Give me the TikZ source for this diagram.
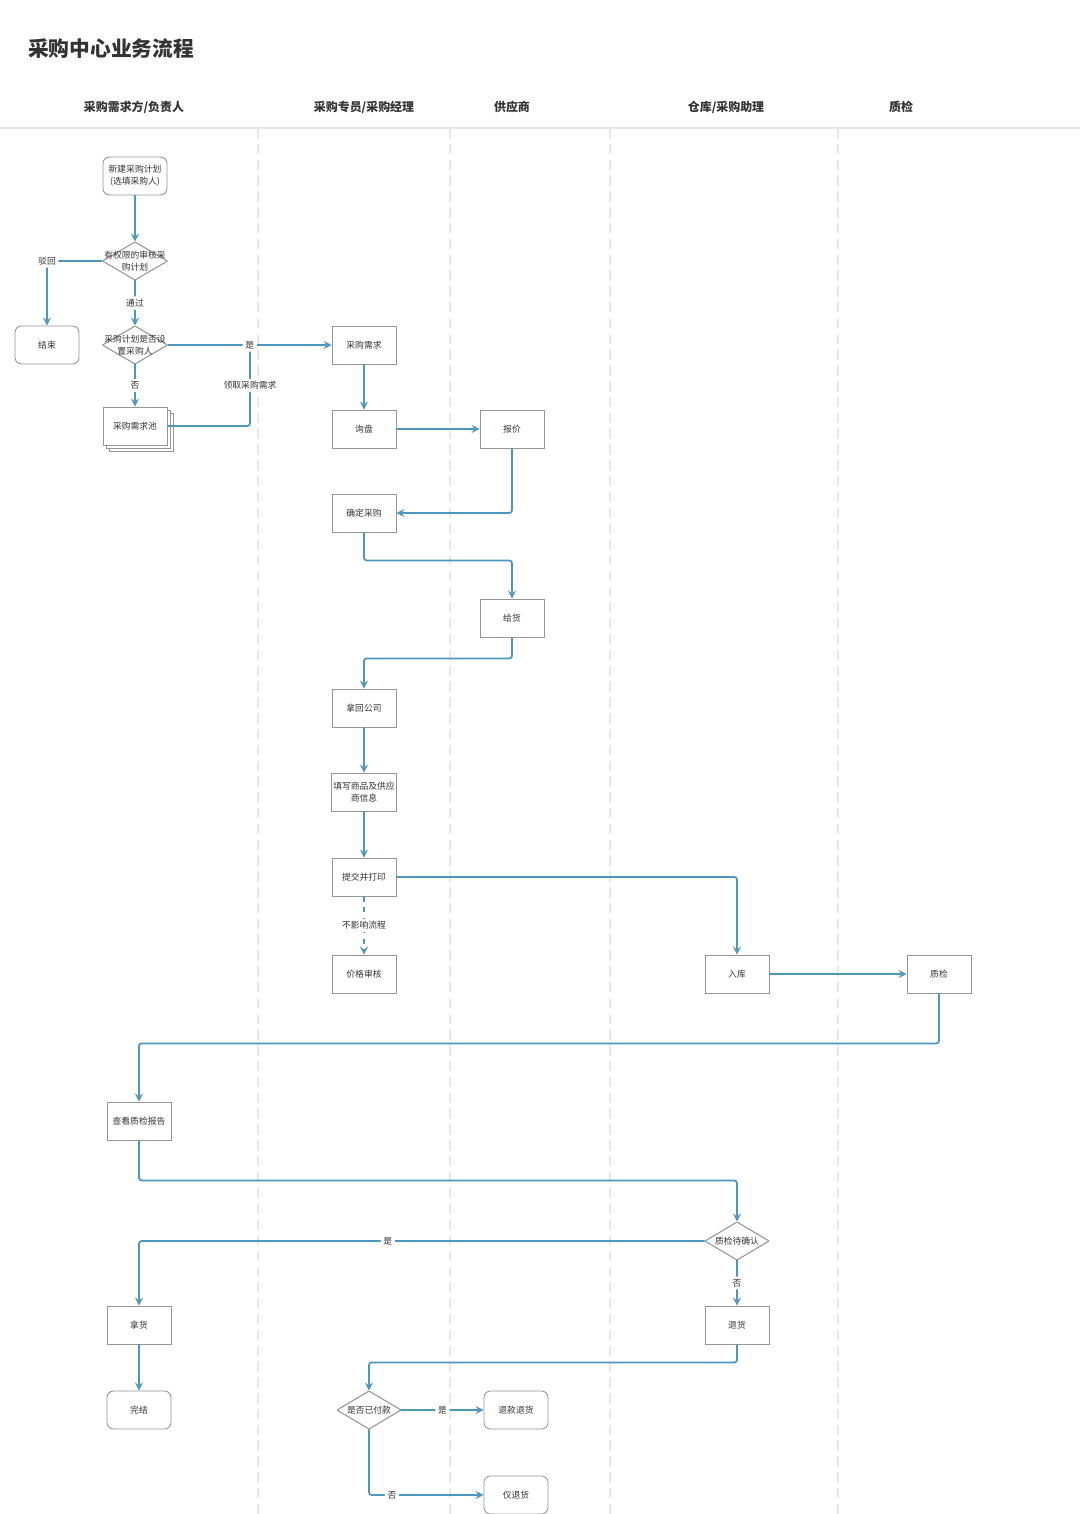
\documentclass[tikz,border=0pt]{standalone}
\usepackage{fontspec}
\setmainfont{Noto Sans CJK SC}
\usepackage{tikz}
\usetikzlibrary{arrows,shapes,shadows,calc,positioning}
\definecolor{flowblue}{RGB}{78,150,188}
\definecolor{boxgray}{RGB}{150,150,150}
\definecolor{txtgray}{RGB}{51,51,51}
\definecolor{lanegray}{RGB}{232,232,232}
\tikzset{%
box/.style={draw=boxgray, line width=0.5pt, fill=white, minimum width=1.28cm,
  minimum height=0.76cm, inner sep=1pt, align=center,
  font=\fontsize{5}{6.8}\selectfont, text=txtgray},
rbox/.style={box, rounded corners=0.13cm},
decision/.style={box, draw=none, path picture={
    \draw[boxgray, line width=0.6pt] (path picture bounding box.north)
      -- (path picture bounding box.east) -- (path picture bounding box.south)
      -- (path picture bounding box.west) -- cycle;}},
stackdoc/.style={box,
  general shadow={fill=white, draw=boxgray, shadow xshift=3.4pt, shadow yshift=-3.4pt},
  general shadow={fill=white, draw=boxgray, shadow xshift=1.7pt, shadow yshift=-1.7pt}},
lanehead/.style={font=\bfseries\fontsize{6.8}{8}\selectfont, text=txtgray},
laneline/.style={lanegray, line width=0.6pt, dash pattern=on 6pt off 3pt},
lbl/.style={fill=white, inner sep=1.5pt, font=\fontsize{5}{6}\selectfont, text=txtgray},
flow/.style={draw=flowblue, line width=1pt, rounded corners=1.5pt, -stealth}
}

\begin{document}
\begin{tikzpicture}[x=0.02cm, y=-0.02cm]
\useasboundingbox[fill=white] (0,0) rectangle (1080,1514);

% title and swim lanes
\node[anchor=west, font=\bfseries\fontsize{11.8}{14}\selectfont, text=txtgray] (title) at (22,49) {采购中心业务流程};
\node[lanehead] (hbuyer) at (134,107) {采购需求方/负责人};
\node[lanehead] (hpurchaser) at (364,107) {采购专员/采购经理};
\node[lanehead] (hsupplier) at (512,107) {供应商};
\node[lanehead] (hwarehouse) at (726,107) {仓库/采购助理};
\node[lanehead] (hqc) at (901,107) {质检};
\draw[lanegray, line width=0.6pt] (0,128) -- (1080,128);
\foreach \lx in {258,450,610,838}
  \draw[laneline] (\lx,128) -- (\lx,1514);

% buyer lane
\node[rbox] (newplan) at (135,176) {新建采购计划\\(选填采购人)};
\node[decision] (audit) at (135,261) {有权限的审核采\\购计划};
\node[rbox] (finish) at (47,345) {结束};
\node[decision] (setbuyer) at (135,345) {采购计划是否设\\置采购人};
\node[stackdoc] (pool) at (135,426) {采购需求池};
\node[box] (report) at (139,1121) {查看质检报告};
\node[box] (pickup) at (139,1325) {拿货};
\node[rbox] (done) at (139,1410) {完结};

% purchaser lane
\node[box] (demand) at (364,345) {采购需求};
\node[box] (inquiry) at (364,429) {询盘};
\node[box] (confirm) at (364,513) {确定采购};
\node[box] (fetch) at (364,708) {拿回公司};
\node[box] (fillin) at (364,792) {填写商品及供应\\商信息};
\node[box] (submit) at (364,877) {提交并打印};
\node[box] (pricecheck) at (364,974) {价格审核};
\node[decision] (paid) at (369,1410) {是否已付款};

% supplier lane
\node[box] (quote) at (512,429) {报价};
\node[box] (deliver) at (512,618) {给货};
\node[rbox] (refund) at (516,1410) {退款退货};
\node[rbox] (onlyreturn) at (516,1495) {仅退货};

% warehouse and qc lanes
\node[box] (stockin) at (737,974) {入库};
\node[box] (qc) at (939,974) {质检};
\node[decision] (qcconfirm) at (737,1241) {质检待确认};
\node[box] (return) at (737,1325) {退货};

\draw[flow] (newplan) -- (audit);
\draw[flow] (audit.west) -| node[lbl, pos=0.5]{驳回} (finish.north);
\draw[flow] (audit) -- node[lbl]{通过} (setbuyer);
\coordinate (join) at (250,345);
\draw[flow, -] (pool.east) -| node[lbl, pos=0.75]{领取采购需求} (join);
\draw[flow] (setbuyer) -- node[lbl]{是} (demand);
\draw[flow] (setbuyer) -- node[lbl]{否} (pool);

\draw[flow] (demand) -- (inquiry);
\draw[flow] (inquiry) -- (quote);
\draw[flow] (quote.south) |- (confirm.east);
\draw[flow] (confirm.south) -- ++(0,28) -| (deliver.north);
\draw[flow] (deliver.south) -- ++(0,21) -| (fetch.north);
\draw[flow] (fetch) -- (fillin);
\draw[flow] (fillin) -- (submit);
\draw[flow] (submit.east) -| (stockin.north);
\draw[flow, dashed] (submit) -- node[lbl]{不影响流程} (pricecheck);
\draw[flow] (stockin) -- (qc);
\draw[flow] (qc.south) -- ++(0,50) -| (report.north);
\draw[flow] (report.south) -- ++(0,40) -| (qcconfirm.north);
\draw[flow] (qcconfirm.west) -| node[lbl, pos=0.28]{是} (pickup.north);
\draw[flow] (qcconfirm) -- node[lbl]{否} (return);
\draw[flow] (pickup) -- (done);
\draw[flow] (return.south) -- ++(0,18) -| (paid.north);
\draw[flow] (paid) -- node[lbl]{是} (refund);
\draw[flow] (paid.south) |- node[lbl, pos=0.6]{否} (onlyreturn.west);

\end{tikzpicture}
\end{document}
